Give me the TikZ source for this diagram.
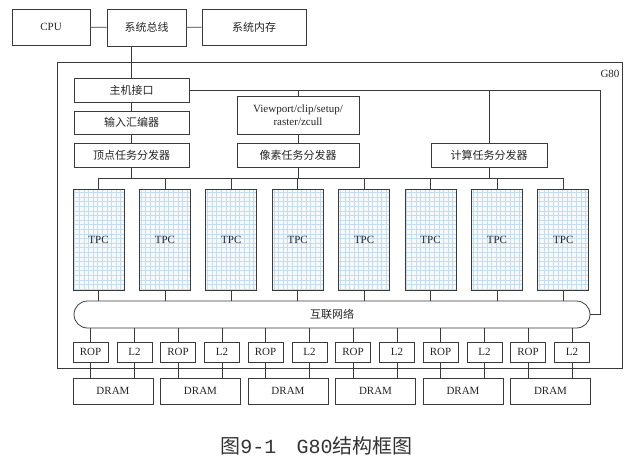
\documentclass[tikz,border=0pt]{standalone}
\usepackage{fontspec}
\setmainfont{Liberation Serif}
\newfontfamily\cjk{Noto Sans CJK SC}
\newfontfamily\capmono{Liberation Mono}
\definecolor{edgegray}{HTML}{3A3A3A}
\definecolor{gridblue}{HTML}{C6DDF0}
\definecolor{tpcfill}{HTML}{F6FAFD}
\begin{document}
\begin{tikzpicture}[x=1pt, y=-1pt,
        link/.style={draw=edgegray, line width=0.8pt},
        box/.style={draw=edgegray, line width=0.8pt, fill=white, inner sep=0pt,
            align=center, text=black!85, font=\fontsize{11}{13}\selectfont},
        tpcbox/.style={box, fill=tpcfill, minimum width=51pt, minimum height=101pt,
            path picture={\draw[gridblue, line width=0.4pt, step=4.6pt]
                (path picture bounding box.south west) grid
                (path picture bounding box.north east);}},
        smallbox/.style={box, minimum width=35pt, minimum height=20pt},
        drambox/.style={box, minimum width=80pt, minimum height=26pt}]
    \useasboundingbox (0,0) rectangle (635,461);
    % host side
    \node[box, minimum width=78pt, minimum height=36pt] (cpu) at (51,27) {CPU};
    \node[box, minimum width=79pt, minimum height=37pt] (bus) at (146.5,27.5) {\cjk 系统总线};
    \node[box, minimum width=104pt, minimum height=36pt] (mem) at (254,27) {\cjk 系统内存};
    \node[draw=edgegray, line width=0.8pt, inner sep=0pt, minimum width=565pt,
        minimum height=306pt] (g80) at (339.5,215) {};
    \node[text=black!85, inner sep=0pt, font=\fontsize{11}{13}\selectfont] (g80name)
        at (610,74) {G80};
    % front end
    \node[box, minimum width=115pt, minimum height=24pt] (host) at (131.5,90) {\cjk 主机接口};
    \node[box, minimum width=115pt, minimum height=23pt] (ia) at (131.5,122.5) {\cjk 输入汇编器};
    \node[box, minimum width=115pt, minimum height=24pt] (vtx) at (131.5,155) {\cjk 顶点任务分发器};
    \node[box, minimum width=122pt, minimum height=38pt] (vp) at (298,115.5)
        {Viewport/clip/setup/\\raster/zcull};
    \node[box, minimum width=122pt, minimum height=24pt] (pix) at (298,155) {\cjk 像素任务分发器};
    \node[box, minimum width=116pt, minimum height=24pt] (cmp) at (489,155) {\cjk 计算任务分发器};
    % processors and memory
    \foreach \k in {1,...,8}
        \node[tpcbox] (tpc\k) at ({32.1+66.4*\k},239.5) {TPC};
    \node[box, rounded corners=13.5pt, minimum width=516pt, minimum height=27pt] (net)
        at (332,314.5) {\cjk 互联网络};
    \foreach \k in {1,...,6} {
        \node[smallbox] (rop\k) at ({3+87.5*\k},352) {ROP};
        \node[smallbox] (ltwo\k) at ({47+87.5*\k},352) {L2};
        \node[drambox] (dram\k) at ({25.5+87.5*\k},391) {DRAM};
    }
    \node[text=black!80, inner sep=0pt, font=\cjk\fontsize{20}{23}\selectfont] (caption)
        at (316.5,446) {图{\capmono 9-1}　{\capmono G80}结构框图};
    % connectors
    \draw[link] (cpu) -- (bus) -- (mem);
    \draw[link] (host.north) -- (host.north |- bus.south);
    \draw[link] (host) -- (ia) -- (vtx);
    \draw[link] (vp) -- (pix);
    \coordinate (hostbend) at (600,90);
    \draw[link] (host.east) -- (hostbend) |- (net.east);
    \draw[link] (vp.north) -- (vp.north |- host.east);
    \draw[link] (cmp.north) -- (cmp.north |- host.east);
    \coordinate (rail) at (0,178);
    \draw[link] (tpc1.north) |- (rail -| tpc8.north) -- (tpc8.north);
    \foreach \k in {2,...,7}
        \draw[link] (tpc\k.north) -- (tpc\k.north |- rail);
    \foreach \src in {vtx,pix,cmp}
        \draw[link] (\src.south) -- (\src.south |- rail);
    \foreach \k in {1,...,8}
        \draw[link] (tpc\k.south) -- (tpc\k.south |- net.north);
    \foreach \k in {1,...,6} {
        \draw[link] (rop\k.north) -- (rop\k.north |- net.south);
        \draw[link] (ltwo\k.north) -- (ltwo\k.north |- net.south);
        \draw[link] (rop\k.south) -- (rop\k.south |- dram\k.north);
        \draw[link] (ltwo\k.south) -- (ltwo\k.south |- dram\k.north);
    }
\end{tikzpicture}
\end{document}
